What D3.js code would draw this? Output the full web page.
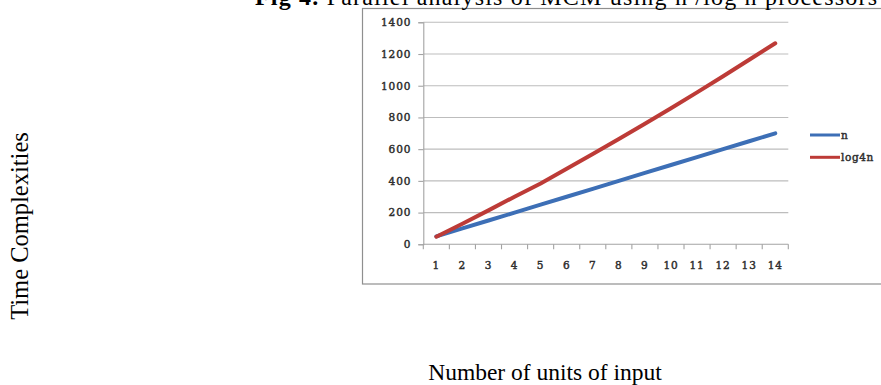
<!DOCTYPE html>
<html>
<head>
<meta charset="utf-8">
<script src="https://cdn.jsdelivr.net/npm/d3@7"></script>
<style>
  html, body { margin: 0; padding: 0; background: #ffffff; }
  svg { display: block; }
</style>
</head>
<body>
<svg id="chart" width="881" height="385"></svg>
<script>
// Inputs (units) along the x axis
const categories = [1, 2, 3, 4, 5, 6, 7, 8, 9, 10, 11, 12, 13, 14];
// Time complexity series
const seriesN = [50, 100, 150, 200, 250, 300, 350, 400, 450, 500, 550, 600, 650, 700];
const seriesLog4n = [48, 130, 214, 300, 384, 476, 570, 664, 760, 858, 958, 1060, 1164, 1268];
const seriesNames = ["n", "log4n"];
const seriesColors = ["#3d6fb6", "#bd3b37"];
const yTicks = [0, 200, 400, 600, 800, 1000, 1200, 1400];

const svg = d3.select("#chart");

const plot = { left: 423.3, right: 788.3, top: 22.3, bottom: 244.3 };

const x = d3.scaleBand().domain(categories).range([plot.left, plot.right]).padding(0);
const y = d3.scaleLinear().domain([0, 1400]).range([plot.bottom, plot.top]);

// Chart frame
svg.append("rect")
  .attr("x", 362.5).attr("y", 8.5)
  .attr("width", 600).attr("height", 275.5)
  .attr("fill", "#ffffff")
  .attr("stroke", "#8f8f8f").attr("stroke-width", 1.2);

// Horizontal gridlines
svg.append("g")
  .selectAll("line")
  .data(yTicks.filter(d => d > 0))
  .join("line")
  .attr("x1", plot.left).attr("x2", plot.right)
  .attr("y1", d => y(d)).attr("y2", d => y(d))
  .attr("stroke", "#bdbdbd").attr("stroke-width", 1.1);

const tickFont = "'DejaVu Serif', serif";

// Semi-bold look for the small chart labels
function smallLabel(sel, spacing) {
  sel.attr("font-family", tickFont).attr("font-size", 10.5)
    .attr("letter-spacing", spacing)
    .attr("fill", "#2e2e2e")
    .attr("stroke", "#2e2e2e").attr("stroke-width", 0.45);
}

// Y axis
const yAxis = svg.append("g")
  .attr("transform", `translate(${plot.left},0)`)
  .call(d3.axisLeft(y).tickValues(yTicks).tickFormat(d3.format("d")).tickSize(5).tickPadding(7));
yAxis.select(".domain").attr("stroke", "#a3a3a3").attr("stroke-width", 1.1);
yAxis.selectAll(".tick line").attr("stroke", "#a3a3a3").attr("stroke-width", 1.1);
yAxis.selectAll(".tick text").call(smallLabel, "0.9px");

// X axis with tick marks at the band edges
const xAxisG = svg.append("g")
  .attr("transform", `translate(0,${plot.bottom})`);
xAxisG.append("line")
  .attr("x1", plot.left).attr("x2", plot.right)
  .attr("stroke", "#a3a3a3").attr("stroke-width", 1.1);
const edges = categories.map(c => x(c)).concat([x(categories[categories.length - 1]) + x.bandwidth()]);
xAxisG.selectAll("line.edge")
  .data(edges)
  .join("line")
  .attr("class", "edge")
  .attr("x1", d => d).attr("x2", d => d)
  .attr("y1", 0).attr("y2", 5)
  .attr("stroke", "#a3a3a3").attr("stroke-width", 1.1);
xAxisG.selectAll("text")
  .data(categories)
  .join("text")
  .attr("x", d => x(d) + x.bandwidth() / 2)
  .attr("y", 21)
  .attr("dy", "0.35em")
  .attr("text-anchor", "middle")
  .call(smallLabel, "0.9px")
  .text(d => d);

// Series lines
const line = d3.line()
  .x((d, i) => x(categories[i]) + x.bandwidth() / 2)
  .y(d => y(d));

[seriesN, seriesLog4n].forEach((vals, i) => {
  svg.append("path")
    .datum(vals)
    .attr("d", line)
    .attr("fill", "none")
    .attr("stroke", seriesColors[i])
    .attr("stroke-width", 4)
    .attr("stroke-linecap", "round")
    .attr("stroke-linejoin", "round");
});

// Legend
const legend = svg.append("g").attr("transform", "translate(810,135)");
seriesNames.forEach((name, i) => {
  const g = legend.append("g").attr("transform", `translate(0,${i * 22.3})`);
  g.append("line")
    .attr("x1", 0).attr("x2", 30)
    .attr("stroke", seriesColors[i]).attr("stroke-width", 3);
  g.append("text")
    .attr("x", 31).attr("dy", "0.35em")
    .call(smallLabel, "0.6px")
    .text(name);
});

const serif = "'Liberation Serif', 'Times New Roman', serif";

// Title (runs off the top edge of the page)
const title = svg.append("text")
  .attr("x", 255).attr("y", 4.5)
  .attr("font-family", serif).attr("font-size", 24)
  .attr("textLength", 622).attr("lengthAdjust", "spacing")
  .attr("fill", "#000");
title.append("tspan").attr("font-weight", "bold").text("Fig 4.");
title.append("tspan").text(" Parallel analysis of MCM using n /log n processors");

// Axis titles
svg.append("text")
  .attr("x", 545).attr("y", 380)
  .attr("text-anchor", "middle")
  .attr("font-family", serif).attr("font-size", 23.5)
  .attr("fill", "#000")
  .text("Number of units of input");

svg.append("text")
  .attr("transform", "translate(28,226) rotate(-90)")
  .attr("text-anchor", "middle")
  .attr("font-family", serif).attr("font-size", 24.5)
  .attr("fill", "#000")
  .text("Time Complexities");
</script>
</body>
</html>
